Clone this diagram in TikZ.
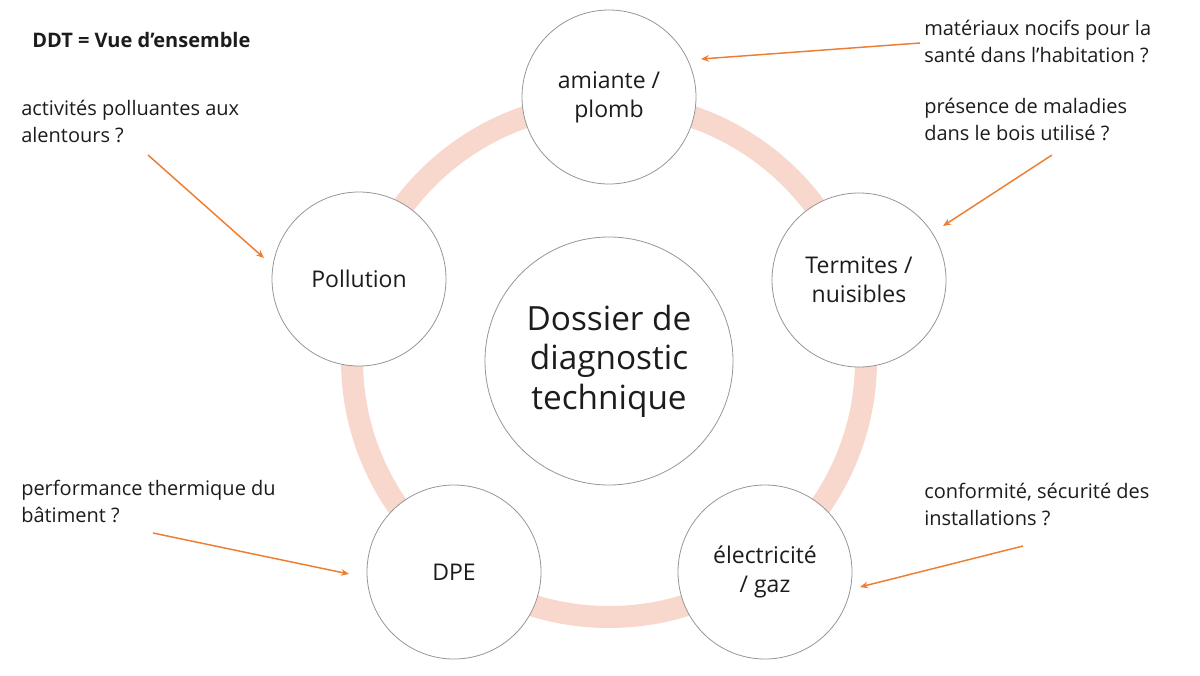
\documentclass[tikz,border=0pt]{standalone}
\usepackage{fontspec}
\setmainfont{Open Sans}
\usetikzlibrary{arrows.meta}
\definecolor{ringc}{RGB}{248,216,205}
\definecolor{arrc}{RGB}{237,125,49}
\definecolor{circc}{RGB}{150,150,150}
\definecolor{txtc}{RGB}{28,28,28}
\begin{document}
\begin{tikzpicture}[x=0.75pt,y=-0.75pt,
  bubble/.style={circle,draw=circc,line width=0.6pt,fill=white,minimum size=130.5pt,inner sep=0pt,align=center,text=txtc,font=\fontsize{17.25}{21.75}\selectfont},
  hub/.style={bubble,minimum size=186pt,font=\fontsize{25}{29.6}\selectfont},
  note/.style={anchor=north west,inner sep=0pt,align=left,text=txtc,font=\fontsize{15}{20.25}\selectfont},
  pointer/.style={draw=arrc,line width=1.1pt,-{Stealth[length=6pt,width=5pt]}}]
\useasboundingbox (0,0) rectangle (1200,675);
\draw[ringc,line width=16.5pt] (609,360) circle[radius=192.75pt];
\node[hub] (hub) at (609,361) {Dossier de\\diagnostic\\technique};
\node[bubble] (am) at (609,97) {amiante /\\plomb};
\node[bubble] (te) at (859,280) {Termites /\\nuisibles};
\node[bubble] (el) at (765,572) {électricité\\/ gaz};
\node[bubble] (dp) at (454,572) {DPE};
\node[bubble] (po) at (359,279) {Pollution};
\node[anchor=base west,inner sep=0pt,text=txtc,font=\fontsize{15}{17}\selectfont\bfseries] (title) at (32,47) {DDT = Vue d’ensemble};
\node[note] (nact) at (21,100) {activités polluantes aux\\alentours ?};
\node[note] (nmat) at (924,20) {matériaux nocifs pour la\\santé dans l’habitation ?};
\node[note] (npre) at (924,98) {présence de maladies\\dans le bois utilisé ?};
\node[note] (nper) at (21,480) {performance thermique du\\bâtiment ?};
\node[note] (ncon) at (924,483) {conformité, sécurité des\\installations ?};
\coordinate (s1) at (920,43);  \coordinate (e1) at (701,59);
\coordinate (s2) at (1052,155); \coordinate (e2) at (943,226);
\coordinate (s3) at (148,155); \coordinate (e3) at (264,258);
\coordinate (s4) at (153,533); \coordinate (e4) at (349,574);
\coordinate (s5) at (1023,546); \coordinate (e5) at (860,587);
\draw[pointer] (s1) -- (e1);
\draw[pointer] (s2) -- (e2);
\draw[pointer] (s3) -- (e3);
\draw[pointer] (s4) -- (e4);
\draw[pointer] (s5) -- (e5);
\end{tikzpicture}
\end{document}
